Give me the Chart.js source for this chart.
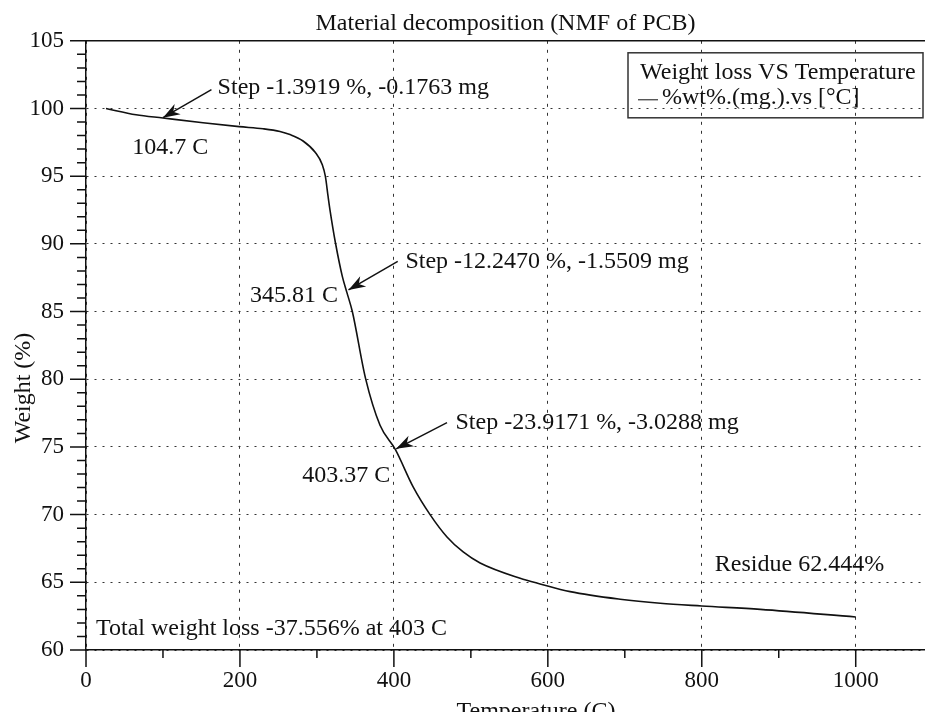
<!DOCTYPE html>
<html lang="en">
<head>
<meta charset="UTF-8" />
<title>Material decomposition (NMF of PCB)</title>
<script src="https://cdn.jsdelivr.net/npm/chart.js"></script>
<style>
  body { margin: 0; background: #fff; }
  canvas { display: block; }
</style>
</head>
<body>
<canvas id="tgaChart" width="925" height="712"></canvas>
<script>
  // TGA curve
  const temperature = [26, 65, 100, 152, 199, 230, 252, 265, 282, 298, 307, 311, 314.5, 317, 324, 333, 339, 346,
    363, 382, 402, 425, 447, 469, 490, 512, 564, 590, 629, 694, 746, 800, 876, 1000];
  const weight = [100.0, 99.54, 99.3, 98.95, 98.66, 98.5, 98.3, 98.07, 97.6, 96.75, 95.85, 94.98, 93.5, 92.5, 90.1, 87.6, 86.4, 85.0,
    80.1, 76.6, 74.8, 72.05, 70.0, 68.35, 67.24, 66.43, 65.3, 64.88, 64.31, 63.75, 63.45, 63.25, 63.0, 62.44];

  const xTicks = [0, 100, 200, 300, 400, 500, 600, 700, 800, 900, 1000];
  const xMajor = 200;
  const yMajor = 5;

  const legendTitle = "Weight loss VS Temperature";
  const seriesLabel = "%wt%.(mg.).vs [°C]";

  // annotation text, anchored at (temperature, weight) of its left edge
  const notes = [
    { text: "Step -1.3919 %, -0.1763 mg", x: 171, y: 101.5 },
    { text: "104.7 C", x: 60, y: 97.1 },
    { text: "Step -12.2470 %, -1.5509 mg", x: 415, y: 88.7 },
    { text: "345.81 C", x: 213, y: 86.2 },
    { text: "Step -23.9171 %, -3.0288 mg", x: 480, y: 76.8 },
    { text: "403.37 C", x: 281, y: 72.9 },
    { text: "Residue 62.444%", x: 817, y: 66.3 },
    { text: "Total weight loss -37.556% at 403 C", x: 13, y: 61.6 }
  ];
  const arrows = [
    { from: [163, 101.4], to: [100, 99.32] },
    { from: [405, 88.7], to: [341, 86.6] },
    { from: [469, 76.8], to: [403, 74.86] }
  ];

  const serif = "'Liberation Serif', 'Times New Roman', serif";
  const ink = "#111";

  function arrowHead(ctx, x1, y1, x2, y2) {
    const a = Math.atan2(y2 - y1, x2 - x1);
    const len = 17, half = 6;
    const bx = x2 - len * Math.cos(a), by = y2 - len * Math.sin(a);
    const nx = x2 - len * 0.7 * Math.cos(a), ny = y2 - len * 0.7 * Math.sin(a);
    ctx.beginPath();
    ctx.moveTo(x2, y2);
    ctx.lineTo(bx + half * Math.sin(a), by - half * Math.cos(a));
    ctx.lineTo(nx, ny);
    ctx.lineTo(bx - half * Math.sin(a), by + half * Math.cos(a));
    ctx.closePath();
    ctx.fill();
  }

  const decorations = {
    id: "decorations",
    afterDraw(chart) {
      const { ctx, chartArea: area, scales: { x, y } } = chart;
      ctx.save();
      ctx.strokeStyle = ink;
      ctx.fillStyle = ink;
      ctx.lineWidth = 1.5;

      // top frame
      ctx.beginPath();
      ctx.moveTo(area.left, area.top);
      ctx.lineTo(area.right, area.top);
      ctx.stroke();

      // tick marks (outside)
      ctx.beginPath();
      y.ticks.forEach(t => {
        const py = y.getPixelForValue(t.value);
        const len = t.value % yMajor === 0 ? 16 : 9;
        ctx.moveTo(area.left - len, py);
        ctx.lineTo(area.left, py);
      });
      x.ticks.forEach(t => {
        const px = x.getPixelForValue(t.value);
        const len = t.value % xMajor === 0 ? 17 : 8;
        ctx.moveTo(px, area.bottom);
        ctx.lineTo(px, area.bottom + len);
      });
      ctx.stroke();

      // axis titles
      ctx.font = "24px " + serif;
      ctx.textAlign = "center";
      ctx.textBaseline = "alphabetic";
      ctx.fillText("Temperature (C)", 536, 718);
      ctx.save();
      ctx.translate(24, 388);
      ctx.rotate(-Math.PI / 2);
      ctx.textBaseline = "middle";
      ctx.fillText("Weight (%)", 0, 0);
      ctx.restore();

      // notes and arrows
      ctx.textAlign = "left";
      ctx.textBaseline = "middle";
      notes.forEach(n => {
        ctx.fillText(n.text, x.getPixelForValue(n.x), y.getPixelForValue(n.y));
      });
      ctx.lineWidth = 1.5;
      arrows.forEach(a => {
        const x1 = x.getPixelForValue(a.from[0]), y1 = y.getPixelForValue(a.from[1]);
        const x2 = x.getPixelForValue(a.to[0]), y2 = y.getPixelForValue(a.to[1]);
        ctx.beginPath();
        ctx.moveTo(x1, y1);
        ctx.lineTo(x2, y2);
        ctx.stroke();
        arrowHead(ctx, x1, y1, x2, y2);
      });

      // legend box
      const bx = area.right - 297, by = area.top + 12;
      ctx.strokeStyle = "#333";
      ctx.lineWidth = 1.5;
      ctx.strokeRect(bx, by, 295, 65);
      ctx.fillText(legendTitle, bx + 12, by + 20);
      ctx.strokeStyle = ink;
      ctx.lineWidth = 1;
      ctx.beginPath();
      ctx.moveTo(bx + 10, by + 47);
      ctx.lineTo(bx + 30, by + 47);
      ctx.stroke();
      ctx.fillText(chart.data.datasets[0].label, bx + 34, by + 45);
      ctx.restore();
    }
  };

  const ctx = document.getElementById("tgaChart").getContext("2d");
  new Chart(ctx, {
    type: "line",
    data: {
      datasets: [{
        label: seriesLabel,
        data: temperature.map((t, i) => ({ x: t, y: weight[i] })),
        borderColor: ink,
        borderWidth: 1.6,
        pointRadius: 0,
        fill: false,
        cubicInterpolationMode: "monotone"
      }]
    },
    options: {
      responsive: false,
      animation: false,
      layout: { padding: 0 },
      plugins: {
        legend: { display: false },
        tooltip: { enabled: false },
        title: {
          display: true,
          fullSize: false,
          text: "Material decomposition (NMF of PCB)",
          color: ink,
          font: { family: serif, size: 24, weight: "normal" },
          padding: { top: 9, bottom: 3 }
        }
      },
      scales: {
        x: {
          type: "linear",
          min: 0,
          max: 1090,
          afterFit: s => { s.height = 62; },
          afterBuildTicks: s => { s.ticks = xTicks.map(v => ({ value: v })); },
          ticks: {
            autoSkip: false,
            maxRotation: 0,
            padding: 17,
            color: ink,
            font: { family: serif, size: 23 },
            callback: v => (v % xMajor === 0 ? v : "")
          },
          grid: {
            drawTicks: false,
            lineWidth: 1,
            color: c => (c.tick && c.tick.value % xMajor === 0 ? "#333" : "rgba(0,0,0,0)")
          },
          border: { color: ink, width: 1.5, dash: [3, 6] }
        },
        y: {
          min: 60,
          max: 105,
          afterFit: s => { s.width = 86; },
          ticks: {
            stepSize: 1,
            autoSkip: false,
            padding: 22,
            color: ink,
            font: { family: serif, size: 23 },
            callback: v => (v % yMajor === 0 ? v : "")
          },
          grid: {
            drawTicks: false,
            lineWidth: 1,
            color: c => (c.tick && c.tick.value % yMajor === 0 ? "#333" : "rgba(0,0,0,0)")
          },
          border: { color: ink, width: 1.5, dash: [2, 6] }
        }
      }
    },
    plugins: [decorations]
  });
</script>
</body>
</html>
